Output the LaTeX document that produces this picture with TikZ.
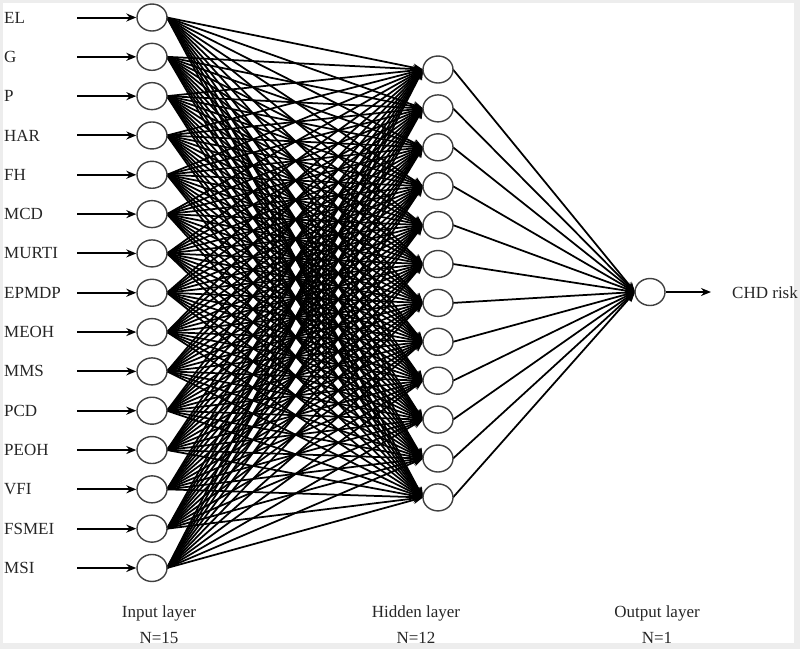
\documentclass[tikz,border=0pt]{standalone}
\usepackage{fontspec}
\setmainfont{Liberation Serif}
\usetikzlibrary{arrows.meta,shapes.geometric}
\begin{document}
\begin{tikzpicture}[x=1pt,y=-1pt,
  neuron/.style={ellipse,draw=black!75,line width=1.4pt,fill=white,minimum width=30pt,minimum height=27pt,inner sep=0pt},
  link/.style={line width=1.75pt,-{Stealth[length=10pt,width=8pt]}},
  inarrow/.style={line width=2pt,-{Stealth[length=10pt,width=8pt]}},
  lab/.style={font=\fontsize{17}{19}\selectfont,inner sep=0pt,text=black!85}]
\useasboundingbox (0,0) rectangle (800,649);
\fill[black!7] (0,0) rectangle (800,649);
\fill[white] (3,3) rectangle (794,643);
% input labels and arrow starts
\foreach \lab [count=\i] in {EL,G,P,HAR,FH,MCD,MURTI,EPMDP,MEOH,MMS,PCD,PEOH,VFI,FSMEI,MSI}{
  \pgfmathsetmacro{\yy}{17.5+(\i-1)*39.32}
  \node[lab,anchor=west] (l\i) at (4,\yy) {\lab};
  \coordinate (s\i) at (77,\yy);
  \coordinate (ie\i) at (167,\yy);
}
\foreach \j in {1,...,12}{
  \pgfmathsetmacro{\yy}{69.5+(\j-1)*38.9}
  \coordinate (hc\j) at (438,\yy);
  \coordinate (hw\j) at (423,\yy);
  \coordinate (he\j) at (453,\yy);
}
\coordinate (oc) at (650,292);
\coordinate (ow) at (635,292);
% links input -> hidden
\foreach \i in {1,...,15}{
  \foreach \j in {1,...,12}{
    \draw[link] (ie\i) -- (hw\j);
  }
}
% links hidden -> output
\foreach \j in {1,...,12}{
  \draw[link] (he\j) -- (ow);
}
% nodes
\foreach \i in {1,...,15}{
  \pgfmathsetmacro{\yy}{17.5+(\i-1)*39.32}
  \node[neuron] (in\i) at (152,\yy) {};
  \draw[inarrow] (s\i) -- (in\i.west);
}
\foreach \j in {1,...,12}{
  \node[neuron] (h\j) at (hc\j) {};
}
\node[neuron] (out) at (oc) {};
\node[lab,anchor=west] (chd) at (732,293) {CHD risk};
\coordinate (oend) at (711,292);
\draw[inarrow] (out.east) -- (oend);
% layer labels
\node[lab] (t1) at (159,613) {Input layer};
\node[lab] (n1) at (159,638) {N=15};
\node[lab] (t2) at (416,613) {Hidden layer};
\node[lab] (n2) at (416,638) {N=12};
\node[lab] (t3) at (657,613) {Output layer};
\node[lab] (n3) at (657,638) {N=1};
\end{tikzpicture}
\end{document}
